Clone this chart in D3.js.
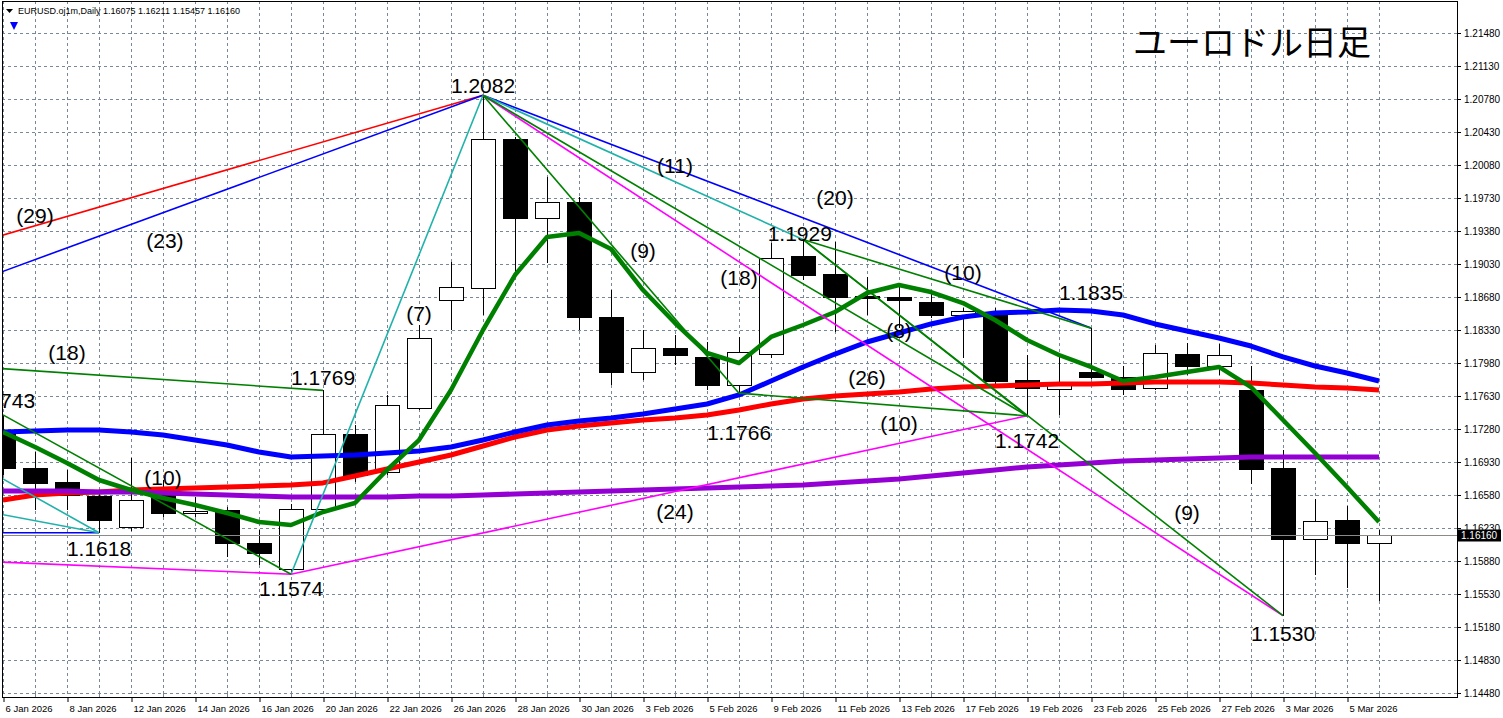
<!DOCTYPE html>
<html>
<head>
<meta charset="utf-8">
<script src="https://cdn.jsdelivr.net/npm/d3@7"></script>
<style>
body { margin: 0; background: #fff; }
svg { display: block; font-family: "Liberation Sans", Arial, sans-serif; }
</style>
</head>
<body>
<svg id="chart" width="1503" height="718"></svg>
<script>
// bars (daily)
var dates = ["6 Jan 2026","7 Jan 2026","8 Jan 2026","9 Jan 2026","12 Jan 2026","13 Jan 2026","14 Jan 2026",
  "15 Jan 2026","16 Jan 2026","19 Jan 2026","20 Jan 2026","21 Jan 2026","22 Jan 2026","23 Jan 2026",
  "26 Jan 2026","27 Jan 2026","28 Jan 2026","29 Jan 2026","30 Jan 2026","2 Feb 2026","3 Feb 2026",
  "4 Feb 2026","5 Feb 2026","6 Feb 2026","9 Feb 2026","10 Feb 2026","11 Feb 2026","12 Feb 2026",
  "13 Feb 2026","16 Feb 2026","17 Feb 2026","18 Feb 2026","19 Feb 2026","20 Feb 2026","23 Feb 2026",
  "24 Feb 2026","25 Feb 2026","26 Feb 2026","27 Feb 2026","2 Mar 2026","3 Mar 2026","4 Mar 2026",
  "5 Mar 2026","6 Mar 2026"];

var opens  = [1.17248,1.16866,1.16718,1.16569,1.16241,1.16580,1.16389,1.16421,1.16071,1.15795,1.16431,
  1.17227,1.16824,1.17503,1.18648,1.18776,1.20356,1.19518,1.19688,1.18468,1.17885,1.18139,1.18044,
  1.17747,1.18076,1.19115,1.18924,1.18691,1.18680,1.18627,1.18489,1.18510,1.17800,1.17704,1.17885,
  1.17832,1.17715,1.18076,1.17948,1.17694,1.16866,1.16113,1.16315,1.16075];
var highs  = [1.17430,1.17036,1.16845,1.16633,1.16972,1.16739,1.16559,1.16453,1.16209,1.16485,1.17690,
  1.17322,1.17641,1.18383,1.19051,1.20820,1.20377,1.19953,1.19741,1.18754,1.18330,1.18277,1.18203,
  1.18256,1.19253,1.19290,1.19263,1.18892,1.18829,1.18733,1.18563,1.18563,1.18065,1.18044,1.18350,
  1.17948,1.18171,1.18192,1.18182,1.17948,1.17057,1.16538,1.16463,1.16211];
var lows   = [1.16792,1.16421,1.16421,1.16180,1.16198,1.16347,1.16347,1.15922,1.15838,1.15740,1.16389,
  1.16718,1.16792,1.17480,1.18330,1.18489,1.18935,1.19041,1.18330,1.17747,1.17800,1.17959,1.17694,
  1.17660,1.18033,1.18860,1.18309,1.18489,1.18351,1.18457,1.18033,1.17757,1.17420,1.17429,1.17810,
  1.17641,1.17694,1.17853,1.17853,1.16697,1.15300,1.15732,1.15592,1.15457];
var closes = [1.16866,1.16707,1.16580,1.16315,1.16527,1.16389,1.16410,1.16071,1.15965,1.16431,1.17227,
  1.16792,1.17535,1.18245,1.18786,1.20356,1.19518,1.19688,1.18468,1.17885,1.18139,1.18065,1.17747,
  1.18097,1.19094,1.18913,1.18680,1.18669,1.18648,1.18489,1.18532,1.17789,1.17715,1.17779,1.17832,
  1.17704,1.18086,1.17948,1.18065,1.16856,1.16113,1.16304,1.16071,1.16160];

// moving averages
var maGreen  = [1.17248,1.17089,1.16919,1.16739,1.16633,1.16548,1.16474,1.16389,1.16294,1.16262,1.16400,
  1.16495,1.16845,1.17163,1.17694,1.18330,1.18913,1.19316,1.19359,1.19189,1.18754,1.18404,1.18086,
  1.17980,1.18256,1.18383,1.18521,1.18722,1.18807,1.18733,1.18616,1.18436,1.18224,1.18065,1.17938,
  1.17789,1.17832,1.17885,1.17938,1.17725,1.17375,1.17025,1.16665,1.16294];
var maBlue   = [1.17248,1.17259,1.17269,1.17269,1.17248,1.17216,1.17163,1.17110,1.17036,1.16983,1.16994,
  1.17004,1.17025,1.17047,1.17089,1.17163,1.17248,1.17322,1.17365,1.17397,1.17439,1.17492,1.17545,
  1.17641,1.17789,1.17938,1.18075,1.18203,1.18298,1.18394,1.18468,1.18510,1.18521,1.18542,1.18531,
  1.18489,1.18394,1.18319,1.18245,1.18160,1.18044,1.17948,1.17874,1.17789];
var maRed    = [1.16527,1.16580,1.16601,1.16612,1.16633,1.16644,1.16654,1.16665,1.16675,1.16686,1.16708,
  1.16782,1.16856,1.16930,1.17004,1.17100,1.17195,1.17269,1.17312,1.17344,1.17375,1.17397,1.17429,
  1.17482,1.17545,1.17598,1.17630,1.17651,1.17672,1.17704,1.17725,1.17736,1.17747,1.17757,1.17757,
  1.17768,1.17779,1.17779,1.17779,1.17768,1.17747,1.17725,1.17715,1.17694];
var maPurple = [1.16622,1.16622,1.16622,1.16612,1.16612,1.16601,1.16591,1.16580,1.16569,1.16559,1.16559,
  1.16559,1.16559,1.16569,1.16569,1.16580,1.16591,1.16601,1.16612,1.16622,1.16633,1.16644,1.16654,
  1.16665,1.16675,1.16686,1.16707,1.16729,1.16750,1.16782,1.16813,1.16845,1.16877,1.16898,1.16919,
  1.16941,1.16951,1.16962,1.16972,1.16983,1.16983,1.16983,1.16983,1.16983];

var yTicks = [1.21480,1.21130,1.20780,1.20430,1.20080,1.19730,1.19380,1.19030,1.18680,1.18330,1.17980,
  1.17630,1.17280,1.16930,1.16580,1.16230,1.15880,1.15530,1.15180,1.14830,1.14480];

// drawn trend lines: [[barIndex, price], [barIndex, price]]
var redLines = [[[-13,1.1805],[15,1.2082]]];
var blueLines = [[[-7,1.1808],[15,1.2082]], [[15,1.2082],[34,1.1835]], [[-3,1.1618],[3,1.1618]]];
var cyanLines = [[[-7,1.1808],[3,1.1618]], [[-13,1.1720],[3,1.1618]], [[9,1.1574],[15,1.2082]],
  [[15,1.2082],[25,1.1929]]];
var greenLines = [[[-7,1.1808],[10,1.1769]], [[0,1.1743],[9,1.1574]], [[15,1.2082],[23,1.1766]],
  [[15,1.2082],[32,1.1742]], [[23,1.1766],[32,1.1742]], [[25,1.1929],[34,1.1835]],
  [[25,1.1929],[32,1.1742]], [[25,1.1929],[40,1.1530]]];
var magentaLines = [[[-3,1.1591],[9,1.1574]], [[9,1.1574],[32,1.1742]], [[15,1.2082],[40,1.1530]]];

// text annotations: [barIndex, price, text]
var pivotLabels = [[15,1.20929,"1.2082"],[24.9,1.19359,"1.1929"],[34,1.18733,"1.1835"],
  [10,1.17832,"1.1769"],[23,1.17248,"1.1766"],[32,1.17163,"1.1742"],[3,1.16018,"1.1618"],
  [9,1.15594,"1.1574"],[40,1.15116,"1.1530"],[0,1.17588,"1.1743"]];
var countLabels = [[1,1.19550,"(29)"],[5.06,1.19285,"(23)"],[2,1.18097,"(18)"],[5,1.16771,"(10)"],
  [13,1.18510,"(7)"],[21,1.20080,"(11)"],[20,1.19178,"(9)"],[26,1.19741,"(20)"],[23,1.18892,"(18)"],
  [30,1.18945,"(10)"],[28,1.18330,"(8)"],[27,1.17832,"(26)"],[28,1.17344,"(10)"],[21,1.16410,"(24)"],
  [37,1.16400,"(9)"]];

var symbolInfo = "EURUSD.oj1m,Daily  1.16075 1.16211 1.15457 1.16160";
var titleText = "ユーロドル日足";

// layout
var plot = {left: 2, top: 1, right: 1457, bottom: 697};
var gridColor = "#778899";

var x = d3.scaleLinear().domain([0, 43]).range([3, 1379]);
var y = d3.scaleLinear().domain([1.1448, 1.2148]).range([693, 33]);
var px = function(v) { return Math.round(v) + 0.5; };

var svg = d3.select("#chart");
svg.append("rect").attr("width", 1503).attr("height", 718).attr("fill", "#fff");

svg.append("clipPath").attr("id", "plotclip")
  .append("rect")
  .attr("x", plot.left).attr("y", plot.top)
  .attr("width", plot.right - plot.left).attr("height", plot.bottom - plot.top);

var inner = svg.append("g").attr("clip-path", "url(#plotclip)");

// grid
var grid = inner.append("g")
  .attr("stroke", gridColor).attr("stroke-dasharray", "3,3")
  .attr("shape-rendering", "crispEdges");
grid.selectAll(".gh").data(yTicks).enter().append("line")
  .attr("x1", plot.left).attr("x2", plot.right)
  .attr("y1", function(d) { return px(y(d)); })
  .attr("y2", function(d) { return px(y(d)); });
grid.selectAll(".gv").data(dates).enter().append("line")
  .attr("y1", plot.top).attr("y2", plot.bottom)
  .attr("x1", function(d, i) { return px(x(i)); })
  .attr("x2", function(d, i) { return px(x(i)); });

// candles
var candles = inner.append("g").attr("shape-rendering", "crispEdges");
dates.forEach(function(d, i) {
  var cx = px(x(i));
  candles.append("line")
    .attr("x1", cx).attr("x2", cx)
    .attr("y1", Math.round(y(highs[i]))).attr("y2", Math.round(y(lows[i])))
    .attr("stroke", "#000");
  var top = Math.round(y(Math.max(opens[i], closes[i])));
  var bot = Math.round(y(Math.min(opens[i], closes[i])));
  candles.append("rect")
    .attr("x", cx - 12).attr("width", 24)
    .attr("y", top + 0.5).attr("height", Math.max(1, bot - top))
    .attr("fill", closes[i] >= opens[i] ? "#fff" : "#000")
    .attr("stroke", "#000");
});

// current price line
inner.append("line")
  .attr("x1", plot.left).attr("x2", plot.right)
  .attr("y1", px(y(closes[closes.length - 1]))).attr("y2", px(y(closes[closes.length - 1])))
  .attr("stroke", "#8a8a8a").attr("shape-rendering", "crispEdges");

// moving averages
var maLine = d3.line().x(function(d, i) { return x(i); }).y(function(d) { return y(d); });
[[maRed, "#ff0000", 5], [maBlue, "#0000ff", 5], [maPurple, "#9400d3", 5], [maGreen, "#008000", 4.5]]
  .forEach(function(m) {
    inner.append("path").datum(m[0])
      .attr("d", maLine).attr("fill", "none")
      .attr("stroke", m[1]).attr("stroke-width", m[2])
      .attr("stroke-linejoin", "round");
  });

// trend lines
function drawLines(list, color) {
  inner.append("g").selectAll("line").data(list).enter().append("line")
    .attr("x1", function(s) { return x(s[0][0]); })
    .attr("y1", function(s) { return y(s[0][1]); })
    .attr("x2", function(s) { return x(s[1][0]); })
    .attr("y2", function(s) { return y(s[1][1]); })
    .attr("stroke", color).attr("stroke-width", 1.6);
}
drawLines(redLines, "#ff0000");
drawLines(blueLines, "#0000ff");
drawLines(cyanLines, "#20b2aa");
drawLines(magentaLines, "#ff00ff");
drawLines(greenLines, "#008000");

// annotations
inner.append("g").selectAll("text").data(pivotLabels.concat(countLabels)).enter().append("text")
  .attr("x", function(d) { return x(d[0]); })
  .attr("y", function(d) { return y(d[1]); })
  .attr("dy", "0.36em")
  .attr("text-anchor", "middle")
  .attr("font-size", 21).attr("fill", "#000")
  .text(function(d) { return d[2]; });

// title
svg.append("text")
  .attr("x", 1252).attr("y", 55)
  .attr("text-anchor", "middle")
  .attr("font-family", "'Noto Sans CJK JP', sans-serif")
  .attr("font-size", 34).attr("fill", "#000")
  .text(titleText);

// header
svg.append("path").attr("d", "M6,9 L13,9 L9.5,13 Z").attr("fill", "#000");
svg.append("text").attr("x", 18).attr("y", 14).attr("font-size", 9).attr("fill", "#000").text(symbolInfo);
svg.append("path").attr("d", "M10,22 L18,22 L14,30 Z").attr("fill", "#0000ff");

// border
svg.append("rect")
  .attr("x", plot.left + 0.5).attr("y", plot.top + 0.5)
  .attr("width", plot.right - plot.left).attr("height", plot.bottom - plot.top)
  .attr("fill", "none").attr("stroke", "#000").attr("shape-rendering", "crispEdges");

// right price axis
var yAxis = svg.append("g")
  .attr("transform", "translate(" + plot.right + ",0)")
  .call(d3.axisRight(y).tickValues(yTicks).tickFormat(d3.format(".5f")).tickSize(4).tickPadding(3));
yAxis.select(".domain").remove();
yAxis.selectAll("text").attr("font-size", 10).attr("font-family", "'Liberation Sans', Arial, sans-serif").attr("fill", "#000");
yAxis.selectAll("line").attr("stroke", "#000");

// last price box
var lastY = px(y(closes[closes.length - 1]));
svg.append("rect").attr("x", plot.right).attr("y", lastY - 6).attr("width", 44).attr("height", 12).attr("fill", "#000");
svg.append("text").attr("x", plot.right + 4).attr("y", lastY).attr("dy", "0.34em")
  .attr("font-size", 10).attr("fill", "#fff").text(d3.format(".5f")(closes[closes.length - 1]));

// bottom date axis
var labelIdx = d3.range(0, dates.length, 2);
var xAxis = svg.append("g")
  .attr("transform", "translate(0," + plot.bottom + ")")
  .call(d3.axisBottom(x).tickValues(labelIdx).tickFormat(function(i) { return dates[i]; }).tickSize(5).tickPadding(3));
xAxis.select(".domain").remove();
xAxis.selectAll("line").attr("stroke", "#000").attr("transform", "translate(0.5,0)");
xAxis.selectAll("text")
  .attr("text-anchor", "start").attr("dx", 2)
  .attr("font-size", 9.5).attr("font-family", "'Liberation Sans', Arial, sans-serif").attr("fill", "#000");
// minor ticks at the other bars
svg.append("g").selectAll("line").data(d3.range(1, dates.length, 2)).enter().append("line")
  .attr("x1", function(i) { return px(x(i)); }).attr("x2", function(i) { return px(x(i)); })
  .attr("y1", plot.bottom - 3).attr("y2", plot.bottom)
  .attr("stroke", gridColor).attr("shape-rendering", "crispEdges");
</script>
</body>
</html>
